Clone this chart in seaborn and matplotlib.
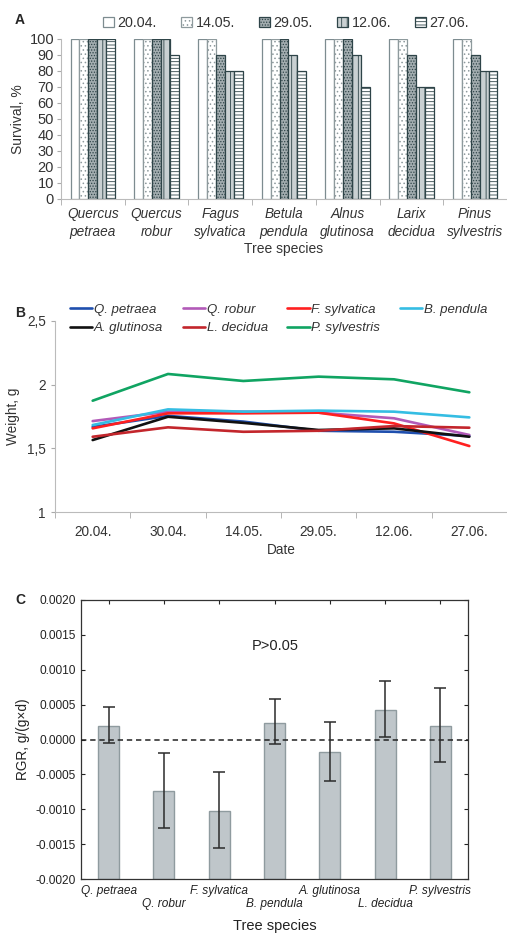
import numpy as np
import pandas as pd
import matplotlib
matplotlib.use("Agg")
import matplotlib.pyplot as plt
import seaborn as sns
from matplotlib.ticker import FixedLocator

# ---------------- data ----------------
species_full = ["Quercus\npetraea", "Quercus\nrobur", "Fagus\nsylvatica", "Betula\npendula",
                "Alnus\nglutinosa", "Larix\ndecidua", "Pinus\nsylvestris"]
survival_dates = ["20.04.", "14.05.", "29.05.", "12.06.", "27.06."]
surv_2004 = [100, 100, 100, 100, 100, 100, 100]
surv_1405 = [100, 100, 100, 100, 100, 100, 100]
surv_2905 = [100, 100, 90, 100, 100, 90, 90]
surv_1206 = [100, 100, 80, 90, 90, 70, 80]
surv_2706 = [100, 90, 80, 80, 70, 70, 80]

weight_dates = ["20.04.", "30.04.", "14.05.", "29.05.", "12.06.", "27.06."]
species_short = ["Q. petraea", "Q. robur", "F. sylvatica", "B. pendula",
                 "A. glutinosa", "L. decidua", "P. sylvestris"]
w_qpetraea = [1.668, 1.755, 1.710, 1.638, 1.630, 1.597]
w_qrobur = [1.714, 1.788, 1.788, 1.780, 1.736, 1.605]
w_fsylvatica = [1.657, 1.775, 1.775, 1.780, 1.696, 1.518]
w_bpendula = [1.683, 1.806, 1.788, 1.796, 1.788, 1.743]
w_aglutinosa = [1.565, 1.748, 1.700, 1.644, 1.657, 1.591]
w_ldecidua = [1.591, 1.665, 1.630, 1.638, 1.675, 1.662]
w_psylvestris = [1.874, 2.084, 2.029, 2.063, 2.042, 1.940]

rgr_mean = [0.00020, -0.00074, -0.00102, 0.00024, -0.00018, 0.00043, 0.00020]
rgr_upper = [0.00047, -0.00020, -0.00047, 0.00058, 0.00025, 0.00084, 0.00074]
rgr_lower = [-0.00005, -0.00127, -0.00155, -0.00007, -0.00060, 0.00004, -0.00032]
rgr_axis_min = -0.002
rgr_axis_max = 0.002

# ---------------- style ----------------
sns.set_style("white")
plt.rcParams["font.family"] = ["Liberation Sans", "DejaVu Sans"]
plt.rcParams["hatch.linewidth"] = 0.6

fig = plt.figure(figsize=(5.07, 9.35), dpi=100)
W, H = 507, 935


def box(l, t, r, b):
    return [l / W, 1 - b / H, (r - l) / W, (b - t) / H]


txt = "#333333"

# ---------------- Panel A ----------------
axA = fig.add_axes(box(61, 39, 507, 199))
dfA = pd.DataFrame({
    "species": np.repeat(species_full, len(survival_dates)),
    "date": survival_dates * len(species_full),
    "survival": np.array([surv_2004, surv_1405, surv_2905, surv_1206, surv_2706]).T.ravel(),
})
fillsA = ["#ffffff", "#ffffff", "#a3adb0", "#c9d0d2", "#ffffff"]
sns.barplot(data=dfA, x="species", y="survival", hue="date", hue_order=survival_dates,
            palette=fillsA, width=0.7, ax=axA, edgecolor="#2e4448", linewidth=0.9,
            saturation=1, legend=True)
hatchesA = [None, "....", "......", "|||", "-----"]
edgesA = ["#7d8c90", "#8e9a9d", "#2e4448", "#2e4448", "#2e4448"]
for cont, h, ec in zip(axA.containers, hatchesA, edgesA):
    for p in cont:
        p.set_edgecolor(ec)
        if h:
            p.set_hatch(h)
handles, labels = axA.get_legend_handles_labels()
for hd, h, ec in zip(handles, hatchesA, edgesA):
    hd.set_edgecolor(ec)
    if h:
        hd.set_hatch(h)
axA.legend(handles, labels, loc="center", bbox_to_anchor=(0.505, 1.1), ncol=5, frameon=False,
           handlelength=0.75, handleheight=0.75, handletextpad=0.25, columnspacing=1.7,
           fontsize=10.3, borderaxespad=0, labelcolor=txt)
axA.set_ylim(0, 100)
axA.set_xlim(-0.5, len(species_full) - 0.5)
axA.set_yticks(range(0, 101, 10))
axA.tick_params(axis="y", labelsize=10.5, colors=txt, length=3, color="#aaaaaa", left=True, pad=2)
axA.tick_params(axis="x", which="major", length=0, labelsize=9.8, labelcolor=txt, pad=6)
axA.xaxis.set_minor_locator(FixedLocator(np.arange(-0.5, len(species_full), 1.0)))
axA.tick_params(axis="x", which="minor", length=4, color="#aaaaaa", bottom=True)
for lab in axA.get_xticklabels():
    lab.set_fontstyle("italic")
    lab.set_linespacing(1.35)
for s in ["top", "right"]:
    axA.spines[s].set_visible(False)
for s in ["left", "bottom"]:
    axA.spines[s].set_color("#bbbbbb")
    axA.spines[s].set_linewidth(0.8)
axA.set_ylabel("Survival, %", fontsize=10, color=txt, labelpad=3)
axA.set_xlabel("Tree species", fontsize=10, color=txt, labelpad=2)
fig.text(15 / W, 1 - 20 / H, "A", fontsize=10, fontweight="bold", ha="left", va="center")

# ---------------- Panel B ----------------
axB = fig.add_axes(box(55, 321, 507, 512))
series_B = [w_qpetraea, w_qrobur, w_fsylvatica, w_bpendula, w_aglutinosa, w_ldecidua, w_psylvestris]
colorsB = ["#1f4fae", "#b25ab8", "#ff2020", "#35bde3", "#111111", "#c3262c", "#10a462"]
dfB = pd.DataFrame({
    "date": weight_dates * len(species_short),
    "species": np.repeat(species_short, len(weight_dates)),
    "weight": np.array(series_B).ravel(),
})
sns.lineplot(data=dfB, x="date", y="weight", hue="species", hue_order=species_short,
             palette=colorsB, linewidth=1.9, ax=axB, legend=True, sort=False)
axB.set_ylim(1, 2.5)
axB.set_xlim(-0.5, len(weight_dates) - 0.5)
axB.set_yticks([1, 1.5, 2, 2.5])
axB.set_yticklabels(["1", "1,5", "2", "2,5"])
axB.tick_params(axis="y", labelsize=9.8, colors=txt, length=3, color="#aaaaaa", left=True)
axB.tick_params(axis="x", which="major", length=0, labelsize=9.8, labelcolor=txt, pad=9)
axB.xaxis.set_minor_locator(FixedLocator(np.arange(-0.5, len(weight_dates), 1.0)))
axB.tick_params(axis="x", which="minor", length=4, color="#aaaaaa", bottom=True)
for s in ["top", "right"]:
    axB.spines[s].set_visible(False)
for s in ["left", "bottom"]:
    axB.spines[s].set_color("#bbbbbb")
    axB.spines[s].set_linewidth(0.8)
axB.set_ylabel("Weight, g", fontsize=9.8, color=txt, labelpad=5)
axB.set_xlabel("Date", fontsize=9.8, color=txt, labelpad=3)
hB, lB = axB.get_legend_handles_labels()
order = [0, 4, 1, 5, 2, 6, 3]
axB.legend([hB[i] for i in order], [lB[i] for i in order], loc="upper left",
           bbox_to_anchor=(15 / 452, 1.09), ncol=4, frameon=False,
           handlelength=1.7, handletextpad=0.1, columnspacing=1.5, labelspacing=0.45,
           borderaxespad=0, borderpad=0, labelcolor=txt,
           prop={"style": "italic", "size": 9.5})
fig.text(15 / W, 1 - 313 / H, "B", fontsize=10, fontweight="bold", ha="left", va="center")

# ---------------- Panel C ----------------
axC = fig.add_axes(box(81, 600, 468, 879))
dfC = pd.DataFrame({"species": species_short, "rgr": rgr_mean})
sns.barplot(data=dfC, x="species", y="rgr", color="#bfc6ca", saturation=1, width=0.38,
            edgecolor="#8f9b9f", linewidth=1.0, ax=axC, errorbar=None)
# Statistica-style bars grow from the bottom of the value axis
for p, v in zip(axC.containers[0], rgr_mean):
    p.set_y(rgr_axis_min)
    p.set_height(v - rgr_axis_min)
pos = np.arange(len(species_short))
err = [np.array(rgr_mean) - np.array(rgr_lower), np.array(rgr_upper) - np.array(rgr_mean)]
axC.errorbar(pos, rgr_mean, yerr=err, fmt="none", ecolor="#2b2b2b", elinewidth=1.1,
             capsize=4.3, capthick=1.1, zorder=5)
axC.axhline(0, color="#222222", linestyle=(0, (3.5, 2.5)), linewidth=1.1, zorder=4)
axC.set_ylim(rgr_axis_min, rgr_axis_max)
axC.set_xlim(-0.5, len(species_short) - 0.5)
yt = np.arange(rgr_axis_min, rgr_axis_max + 1e-6, 0.0005)
axC.set_yticks(yt)
axC.set_yticklabels([f"{v:.4f}" for v in yt])
axC.set_xticks(pos)
axC.set_xticklabels([s if i % 2 == 0 else "\n" + s for i, s in enumerate(species_short)],
                    fontstyle="italic", fontsize=8.6, color="#222222")
axC.tick_params(axis="y", labelsize=8.6, colors="#222222", direction="in", length=3,
                left=True, right=True, width=0.8)
axC.tick_params(axis="x", direction="in", length=3, bottom=False, top=True, width=0.8, pad=4)
for s in axC.spines.values():
    s.set_visible(True)
    s.set_color("#333333")
    s.set_linewidth(0.9)
axC.set_ylabel("RGR, g/(g×d)", fontsize=9.8, color="#222222", labelpad=4)
axC.set_xlabel("Tree species", fontsize=10.5, color="#222222", labelpad=6)
axC.text(0.502, 0.835, "P>0.05", transform=axC.transAxes, fontsize=10.5, ha="center",
         va="center", color="#222222")
fig.text(15 / W, 1 - 600 / H, "C", fontsize=10, fontweight="bold", ha="left", va="center")

fig.savefig("out.png", dpi=100)
